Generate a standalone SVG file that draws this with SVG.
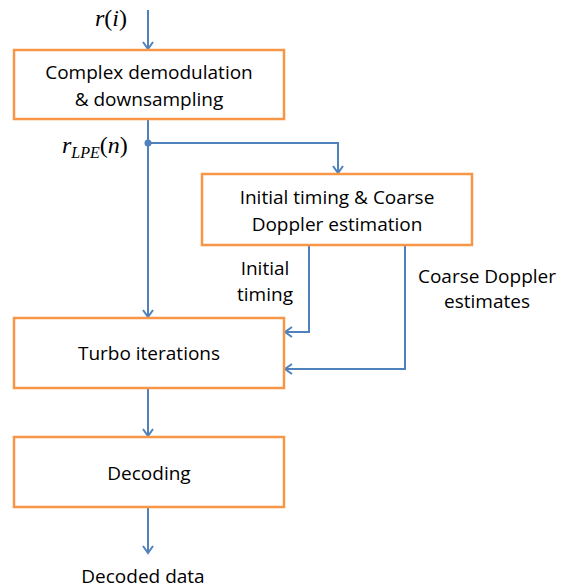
<svg xmlns="http://www.w3.org/2000/svg" width="561" height="588" viewBox="0 0 561 588">
<style>
.box{fill:#fff;stroke:#F79646;stroke-width:2.5}
.t{font-family:"Open Sans","Liberation Sans",sans-serif;font-size:19px;fill:#000;text-anchor:middle}
.m{font-family:"Liberation Serif",serif;font-size:24px;fill:#000}
.c{fill:none;stroke:#4F81BD;stroke-width:2}
</style>
<defs>
<marker id="a" markerWidth="12" markerHeight="12" viewBox="0 0 12 12" refX="10" refY="6" orient="auto" markerUnits="userSpaceOnUse">
<polyline points="3,1 10,6 3,11" fill="none" stroke="#4F81BD" stroke-width="2"/>
</marker>
</defs>
<g id="connectors">
<line class="c" x1="148" y1="10" x2="148" y2="49" marker-end="url(#a)"/>
<line class="c" x1="148" y1="119" x2="148" y2="317" marker-end="url(#a)"/>
<polyline class="c" points="148,143 338,143 338,173" marker-end="url(#a)"/>
<circle cx="148" cy="143" r="3.5" fill="#4F81BD"/>
<polyline class="c" points="309,245 309,332 285,332" marker-end="url(#a)"/>
<polyline class="c" points="405,245 405,369 285,369" marker-end="url(#a)"/>
<line class="c" x1="148" y1="388" x2="148" y2="436" marker-end="url(#a)"/>
<line class="c" x1="148" y1="507" x2="148" y2="553" marker-end="url(#a)"/>
</g>
<g id="n1">
<rect class="box" x="14" y="50" width="270" height="69"/>
<text class="t" x="149" y="79">Complex demodulation</text>
<text class="t" x="149" y="106">&amp; downsampling</text>
</g>
<g id="n2">
<rect class="box" x="202" y="174" width="270" height="71"/>
<text class="t" x="337" y="204">Initial timing &amp; Coarse</text>
<text class="t" x="337" y="231">Doppler estimation</text>
</g>
<g id="n3">
<rect class="box" x="14" y="318" width="270" height="70"/>
<text class="t" x="149" y="360">Turbo iterations</text>
</g>
<g id="n4">
<rect class="box" x="14" y="437" width="270" height="70"/>
<text class="t" x="149" y="480">Decoding</text>
</g>
<g id="labels">
<text class="m" x="95" y="26"><tspan font-style="italic">r</tspan>(<tspan font-style="italic">i</tspan>)</text>
<text class="m" x="62" y="153"><tspan font-style="italic">r</tspan><tspan font-style="italic" font-size="16" dy="5">LPE</tspan><tspan dy="-5">(</tspan><tspan font-style="italic">n</tspan>)</text>
<text class="t" x="265" y="275">Initial</text>
<text class="t" x="265" y="301">timing</text>
<text class="t" x="487" y="283">Coarse Doppler</text>
<text class="t" x="487" y="308">estimates</text>
<text class="t" x="143" y="583">Decoded data</text>
</g>
</svg>
